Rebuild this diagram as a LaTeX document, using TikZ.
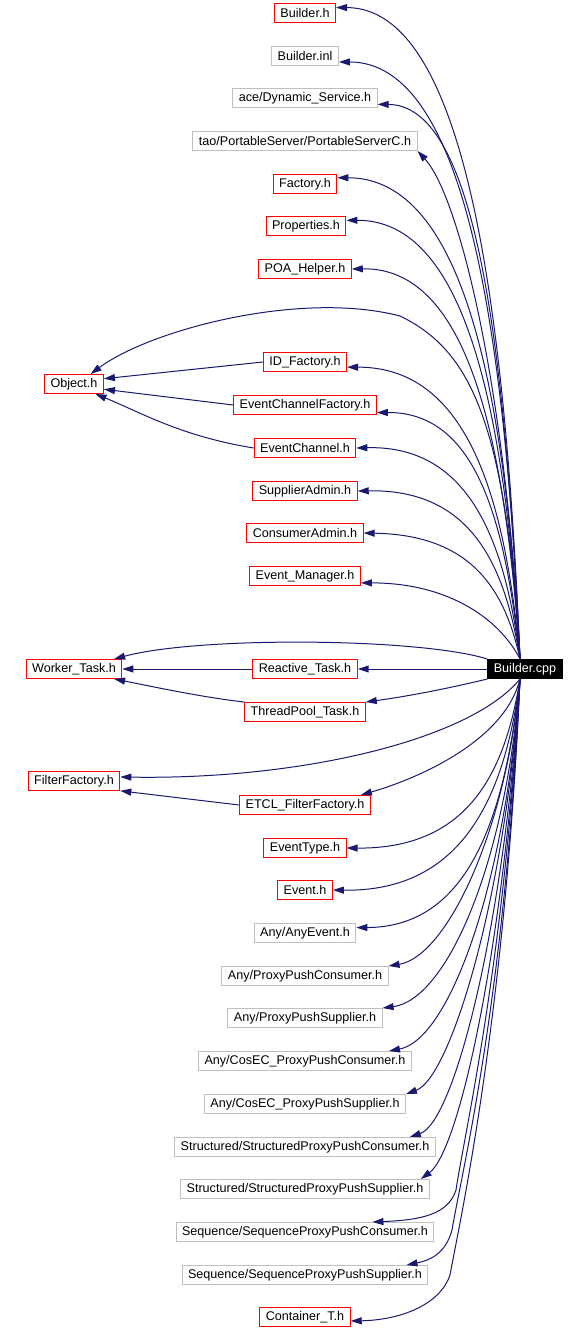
\documentclass[tikz,border=0pt]{standalone}
\usepackage{fontspec}
\setmainfont{Liberation Sans}
\usetikzlibrary{arrows.meta}
\definecolor{edgeblue}{HTML}{191970}
\definecolor{hdrred}{HTML}{FF0000}
\definecolor{extgray}{HTML}{BFBFBF}

\tikzset{
    file/.style={draw, line width=1pt, fill=white, minimum height=19pt,
        inner xsep=6pt, inner ysep=0pt, font=\fontsize{12.6}{14}\selectfont},
    hdr/.style={file, draw=hdrred},
    ext/.style={file, draw=extgray},
    src/.style={file, draw=black, fill=black, text=white},
    dep/.style={edgeblue, line width=1pt, -{Triangle[length=11pt,width=7pt]}}
}

\begin{document}
\begin{tikzpicture}[x=1pt, y=-1pt]
\useasboundingbox (0,0) rectangle (588,1329);

% Source file
\node[src] (cpp) at (525,669) {Builder.cpp};
\coordinate (up) at ([xshift=-5pt]cpp.north);
\coordinate (down) at ([xshift=-5pt]cpp.south);

% First column
\node[hdr] (obj) at (74,384) {Object.h};
\node[hdr] (wt) at (74,669) {Worker\_Task.h};
\node[hdr] (ff) at (74,781) {FilterFactory.h};

% Second column
\node[hdr] (bh)   at (305,13)  {Builder.h};
\node[ext] (binl) at (305,56)  {Builder.inl};
\node[ext] (dyn)  at (305,98)  {ace/Dynamic\_Service.h};
\node[ext] (psc)  at (305,141) {tao/PortableServer/PortableServerC.h};
\node[hdr] (fac)  at (305,184) {Factory.h};
\node[hdr] (prop) at (306,226) {Properties.h};
\node[hdr] (poa)  at (305,269) {POA\_Helper.h};
\node[hdr] (idf)  at (305,362) {ID\_Factory.h};
\node[hdr] (ecf)  at (305,405) {EventChannelFactory.h};
\node[hdr] (ec)   at (305,448) {EventChannel.h};
\node[hdr] (sa)   at (305,491) {SupplierAdmin.h};
\node[hdr] (ca)   at (305,533) {ConsumerAdmin.h};
\node[hdr] (em)   at (305,576) {Event\_Manager.h};
\node[hdr] (rt)   at (305,669) {Reactive\_Task.h};
\node[hdr] (tp)   at (305,712) {ThreadPool\_Task.h};
\node[hdr] (etcl) at (305,805) {ETCL\_FilterFactory.h};
\node[hdr] (et)   at (305,848) {EventType.h};
\node[hdr] (ev)   at (305,890) {Event.h};
\node[ext] (ae)   at (305,933) {Any/AnyEvent.h};
\node[ext] (appc) at (305,976) {Any/ProxyPushConsumer.h};
\node[ext] (apps) at (305,1018) {Any/ProxyPushSupplier.h};
\node[ext] (acc)  at (305,1061) {Any/CosEC\_ProxyPushConsumer.h};
\node[ext] (acs)  at (305,1104) {Any/CosEC\_ProxyPushSupplier.h};
\node[ext] (stc)  at (305,1147) {Structured/StructuredProxyPushConsumer.h};
\node[ext] (sts)  at (305,1189) {Structured/StructuredProxyPushSupplier.h};
\node[ext] (sqc)  at (305,1232) {Sequence/SequenceProxyPushConsumer.h};
\node[ext] (sqs)  at (305,1275) {Sequence/SequenceProxyPushSupplier.h};
\node[hdr] (ct)   at (305,1317) {Container\_T.h};

% Includes above Builder.cpp
\draw[dep] (up) .. controls (505,302) and (465,8) .. (bh.10);
\draw[dep] (up) .. controls (505,330) and (466,62) .. (binl.-10);
\draw[dep] (up) .. controls (505,354) and (478,105) .. (dyn.-5);
\draw[dep] (up) .. controls (505,379) and (458,195) .. (psc.south east);
\draw[dep] (up) .. controls (505,395) and (465,178) .. (fac.11);
\draw[dep] (up) .. controls (505,418) and (468,220) .. (prop.8);
\draw[dep] (up) .. controls (505,444) and (470,267) .. (poa.east);
\draw[dep] (up) .. controls (505,420) and (470,350) .. (400,316)
    .. controls (300,290) and (150,330) .. (obj.31);
\draw[dep] (up) .. controls (505,498) and (468,367) .. (idf.-7);
\draw[dep] (up) .. controls (505,522) and (477,412) .. (ecf.-6);
\draw[dep] (up) .. controls (505,542) and (470,445) .. (ec.east);
\draw[dep] (up) .. controls (505,566) and (472,489) .. (sa.east);
\draw[dep] (up) .. controls (505,591) and (473,535) .. (ca.east);
\draw[dep] (up) .. controls (500,620) and (450,583) .. (em.-7);

% Task headers
\draw[dep] (cpp.north west) .. controls (420,638) and (200,636) .. (wt.14);
\draw[dep] (cpp.west) -- (rt.east);
\draw[dep] (cpp.south west) .. controls (450,688) and (410,696) .. (tp.north east);
\draw[dep] (rt.west) -- (wt.east);
\draw[dep] (tp.north west) .. controls (200,697) and (150,686) .. (wt.-14);

% Object.h users
\draw[dep] (idf.west) -- (obj.10);
\draw[dep] (ecf.west) -- (obj.-10);
\draw[dep] (ec.west) .. controls (180,436) and (140,412) .. (obj.-25);

% Filter factories
\draw[dep] (down) .. controls (470,740) and (300,780) .. (ff.5);
\draw[dep] (down) .. controls (505,740) and (420,778) .. ([xshift=-10pt]etcl.north east);
\draw[dep] (etcl.west) -- (ff.-12);

% Includes below Builder.cpp
\draw[dep] (down) .. controls (505,773) and (468,849) .. (et.east);
\draw[dep] (down) .. controls (505,796) and (463,892) .. (ev.east);
\draw[dep] (down) .. controls (505,815) and (470,927) .. (ae.6);
\draw[dep] (down) .. controls (505,837) and (445,957) .. (appc.north east);
\draw[dep] (down) .. controls (505,870) and (445,1000) .. (apps.north east);
\draw[dep] (down) .. controls (505,890) and (448,1040) .. ([xshift=-23pt]acc.north east);
\draw[dep] (down) .. controls (505,900) and (450,1078) .. (acs.north east);
\draw[dep] (down) .. controls (505,920) and (455,1122) .. ([xshift=-26pt]stc.north east);
\draw[dep] (down) .. controls (505,940) and (460,1150) .. ([xshift=-9pt]sts.north east);
\draw[dep] (down) .. controls (505,960) and (465,1130) .. (456,1190)
    .. controls (448,1215) and (420,1220) .. ([xshift=-62pt]sqc.north east);
\draw[dep] (down) .. controls (505,1000) and (462,1170) .. (452,1230)
    .. controls (446,1252) and (432,1260) .. ([xshift=-22pt]sqs.north east);
\draw[dep] (down) .. controls (505,1020) and (460,1220) .. (450,1275)
    .. controls (440,1305) and (400,1320) .. (ct.-5);
\end{tikzpicture}
\end{document}
